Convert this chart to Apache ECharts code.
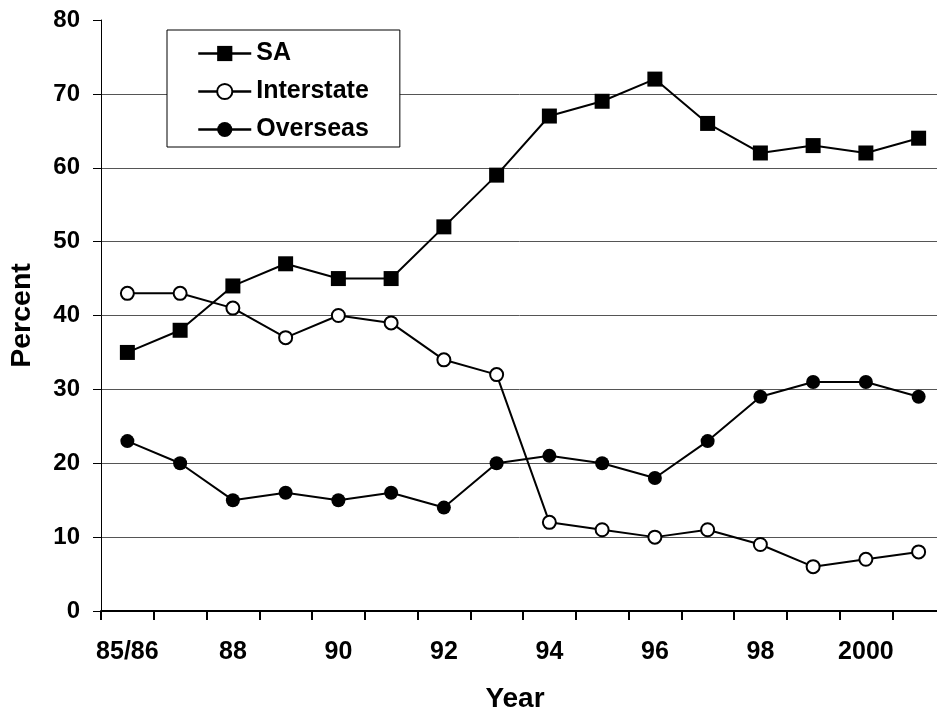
<!DOCTYPE html>
<html>
<head>
<meta charset="utf-8">
<title>Percent by Year</title>
<script src="https://cdn.jsdelivr.net/npm/echarts@6/dist/echarts.min.js"></script>
<style>
  html, body { margin: 0; padding: 0; background: #fff; }
  #chart { width: 937px; height: 711px; }
</style>
</head>
<body>
<div id="chart"></div>
<script>
// Years on the horizontal axis (every other one is labelled)
const years = ['85/86', '87', '88', '89', '90', '91', '92', '93', '94', '95', '96', '97', '98', '99', '2000', '2001'];

// Percent share per year for each group
const saValues         = [35, 38, 44, 47, 45, 45, 52, 59, 67, 69, 72, 66, 62, 63, 62, 64];
const interstateValues = [43, 43, 41, 37, 40, 39, 34, 32, 12, 11, 10, 11, 9, 6, 7, 8];
const overseasValues   = [23, 20, 15, 16, 15, 16, 14, 20, 21, 20, 18, 23, 29, 31, 31, 29];

// Value axis range
const yMin = 0, yMax = 80, yStep = 10;

const FONT = '"Liberation Sans", Arial, Helvetica, sans-serif';

const chart = echarts.init(document.getElementById('chart'), null, { renderer: 'canvas' });

function lineSeries(name, data, symbol, size, fill) {
  return {
    name: name,
    type: 'line',
    data: data,
    symbol: symbol,
    symbolSize: size,
    showAllSymbol: true,
    lineStyle: { color: '#000', width: 2 },
    itemStyle: { color: fill, borderColor: '#000', borderWidth: fill === '#fff' ? 2 : 0 },
    emphasis: { disabled: true },
    animation: false,
    z: 3
  };
}

// grid lines for 0..70, none drawn at the top value
const gridColors = [];
for (let v = yMin; v <= yMax; v += yStep) gridColors.push(v === yMax ? 'rgba(0,0,0,0)' : '#555');

// legend entries with a 2px connector line through each marker
const legendNames = ['SA', 'Interstate', 'Overseas'];
const legendItems = legendNames.map(n => ({ name: n, lineStyle: { width: 2.5, color: '#000' } }));

chart.setOption({
  backgroundColor: '#fff',
  animation: false,
  grid: { left: 101, top: 20, right: -8, bottom: 100, containLabel: false, outerBoundsMode: 'none' },
  legend: {
    orient: 'vertical',
    left: 167,
    top: 30,
    padding: [11, 31, 5, 30],
    itemWidth: 53,
    itemHeight: 19,
    itemGap: 13,
    backgroundColor: '#fff',
    borderColor: '#000',
    borderWidth: 1,
    lineStyle: { width: 2.5, color: '#000' },
    textStyle: { fontFamily: FONT, fontWeight: 'bold', fontSize: 25, color: '#000' },
    data: legendItems,
    selectedMode: false
  },
  xAxis: {
    type: 'category',
    data: years,
    boundaryGap: true,
    name: 'Year',
    nameLocation: 'middle',
    nameGap: 74,
    nameTextStyle: { fontFamily: FONT, fontWeight: 'bold', fontSize: 28, color: '#000', padding: [0, 16, 0, 0] },
    axisLine: { show: true, lineStyle: { color: '#000', width: 2 } },
    axisTick: { show: true, alignWithLabel: false, interval: 0, length: 9, lineStyle: { color: '#000', width: 2 } },
    axisLabel: { interval: 1, margin: 29, fontFamily: FONT, fontWeight: 'bold', fontSize: 25, color: '#000' },
    splitLine: { show: false }
  },
  yAxis: {
    type: 'value',
    min: yMin,
    max: yMax,
    interval: yStep,
    name: 'Percent',
    nameLocation: 'middle',
    nameGap: 64,
    nameTextStyle: { fontFamily: FONT, fontWeight: 'bold', fontSize: 28.5, color: '#000' },
    axisLine: { show: true, lineStyle: { color: '#000', width: 1 } },
    axisTick: { show: true, length: 8, lineStyle: { color: '#000', width: 1 } },
    axisLabel: { margin: 21, fontFamily: FONT, fontWeight: 'bold', fontSize: 24, color: '#000' },
    splitLine: { show: true, lineStyle: { color: gridColors, width: 1 } }
  },
  series: [
    lineSeries('SA', saValues, 'rect', 15, '#000'),
    lineSeries('Interstate', interstateValues, 'circle', 13, '#fff'),
    lineSeries('Overseas', overseasValues, 'circle', 14, '#000')
  ]
});
</script>
</body>
</html>
